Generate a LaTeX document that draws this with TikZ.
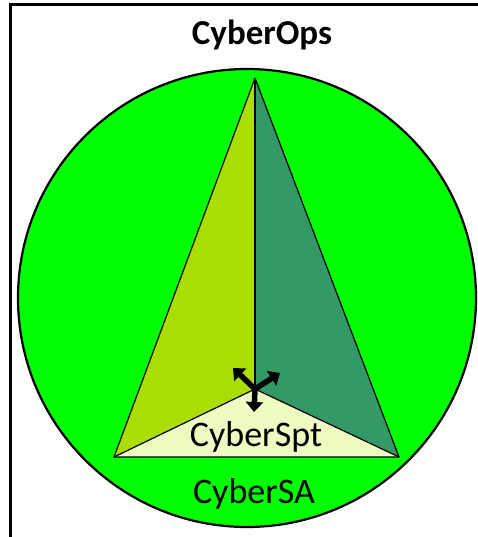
\documentclass[tikz,border=0pt]{standalone}
\usepackage{fontspec}
\setmainfont{Carlito}
\usetikzlibrary{arrows.meta}
\definecolor{brightgreen}{RGB}{0,255,0}
\definecolor{lime}{RGB}{170,221,0}
\definecolor{darkgr}{RGB}{51,153,102}
\definecolor{paleyel}{RGB}{238,252,194}
\tikzset{
  lbl/.style={font=\fontsize{36}{36}\selectfont, inner sep=0pt},
  ttl/.style={font=\fontsize{35}{35}\selectfont\bfseries, inner sep=0pt},
  tri/.style={draw=black, line width=1.2pt, line join=round},
  arr/.style={line width=5.5pt, -{Triangle[length=10pt,width=17pt]}}
}
\begin{document}
\begin{tikzpicture}[x=1pt,y=-1pt]
\useasboundingbox (0,0) rectangle (478,537);
\draw[line width=3.2pt] (10.5,545) -- (10.5,4.5) -- (490,4.5);
\node[ttl] (title) at (262,35) {CyberOps};
\node[circle, draw, line width=2.2pt, fill=brightgreen, minimum size=458pt, inner sep=0pt] (sa) at (247,298) {};
\coordinate (A) at (255,78);
\coordinate (L) at (114,457);
\coordinate (R) at (399,457);
\coordinate (C) at (255,389);
\fill[lime] (A) -- (L) -- (C) -- cycle;
\fill[darkgr] (A) -- (C) -- (R) -- cycle;
\fill[paleyel] (L) -- (C) -- (R) -- cycle;
\draw[tri] (A) -- (L) -- (R) -- cycle;
\draw[tri] (L) -- (C) -- (R);
\draw[tri] (A) -- (C);
\coordinate (d) at (254,412);
\coordinate (ul) at (233,368);
\coordinate (ur) at (280,373);
\draw[arr] (C) -- (d);
\draw[arr] (C) -- (ul);
\draw[arr] (C) -- (ur);
\node[lbl] (spt) at (256,437) {CyberSpt};
\node[lbl] (sal) at (254,494) {CyberSA};
\end{tikzpicture}
\end{document}
